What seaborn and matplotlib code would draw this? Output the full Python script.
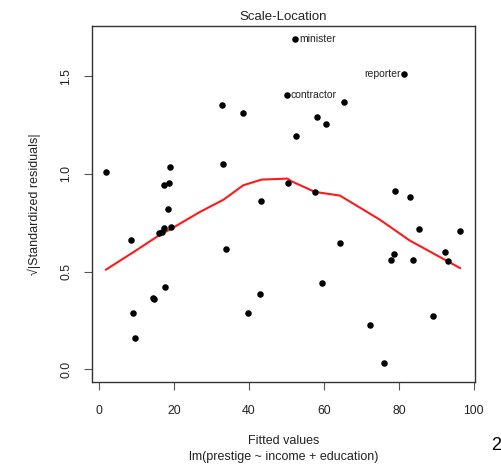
import matplotlib
matplotlib.use("Agg")
import matplotlib.pyplot as plt
import seaborn as sns
import pandas as pd

# ---- data ----
fitted = [1.8, 19.0, 17.3, 18.75, 18.5, 32.9, 38.4, 50.1, 33.2, 50.5, 43.2,
          52.3, 81.5, 65.5, 58.1, 60.5, 52.5, 57.6, 79.1, 83.0,
          8.5, 16.1, 17.4, 19.1, 33.9, 17.6, 14.3, 14.6, 9.0, 9.5, 39.8, 43.0,
          85.4, 96.4, 64.3, 78.7, 77.9, 83.9, 92.2, 93.0, 59.5, 89.2, 72.3,
          76.0, 16.8]
sqrt_std_resid = [1.008, 1.037, 0.945, 0.954, 0.820, 1.354, 1.313, 1.405, 1.051,
                  0.954, 0.862, 1.689, 1.513, 1.367, 1.294, 1.256, 1.193, 0.906,
                  0.913, 0.882, 0.660, 0.697, 0.723, 0.730, 0.617, 0.420, 0.364,
                  0.360, 0.287, 0.159, 0.287, 0.385, 0.720, 0.709, 0.646, 0.591,
                  0.559, 0.559, 0.600, 0.554, 0.439, 0.273, 0.227, 0.031, 0.705]

smooth_x = [1.8, 9.0, 16.3, 19.0, 26.9, 33.2, 38.5, 43.4, 50.3, 51.4, 57.6,
            64.3, 74.9, 82.9, 96.4]
smooth_y = [0.509, 0.597, 0.689, 0.716, 0.805, 0.868, 0.942, 0.971, 0.976,
            0.962, 0.908, 0.889, 0.766, 0.659, 0.517]

label_names = ["minister", "reporter", "contractor"]
label_x = [52.3, 81.5, 50.1]
label_y = [1.689, 1.513, 1.405]
label_side = ["right", "left", "right"]

x_ticks = [0, 20, 40, 60, 80, 100]
y_ticks = [0.0, 0.5, 1.0, 1.5]

# ---- styling ----
sns.set_style("white")
plt.rcParams["font.family"] = ["Liberation Sans", "DejaVu Sans"]

fig = plt.figure(figsize=(5.02, 4.67), dpi=100)
ax = fig.add_axes([0.1827, 0.1814, 0.7633, 0.7629])

pts = pd.DataFrame({"x": fitted, "y": sqrt_std_resid})
sm = pd.DataFrame({"x": smooth_x, "y": smooth_y})

sns.scatterplot(data=pts, x="x", y="y", ax=ax, color="black", s=22,
                edgecolor="black", linewidth=0, zorder=3)
sns.lineplot(data=sm, x="x", y="y", ax=ax, color="#FF1A1A", linewidth=1.5,
             sort=False, estimator=None, zorder=2)

for name, lx, ly, side in zip(label_names, label_x, label_y, label_side):
    off = 3 if side == "right" else -3
    ax.annotate(name, (lx, ly), xytext=(off, 0), textcoords="offset points",
                ha="left" if side == "right" else "right", va="center",
                fontsize=7.5, color="#222222")

ax.set_xlim(-1.95, 100.3)
ax.set_ylim(-0.0676, 1.758)
ax.set_xticks(x_ticks)
ax.set_xticklabels([str(t) for t in x_ticks])
ax.set_yticks(y_ticks)
ax.set_yticklabels([f"{t:.1f}" for t in y_ticks], rotation=90, va="center")

for s in ax.spines.values():
    s.set_visible(True)
    s.set_color("#333333")
    s.set_linewidth(1.0)

ax.tick_params(axis="both", direction="out", length=6, width=0.8,
               color="#555555", labelsize=8.8, labelcolor="#222222",
               bottom=True, left=True)
ax.tick_params(axis="x", pad=10)
ax.tick_params(axis="y", pad=8)

ax.set_xlabel("Fitted values\nlm(prestige ~ income + education)",
              fontsize=9, color="#222222", labelpad=13, linespacing=1.45)
ax.set_ylabel("\u221a|Standardized residuals|", fontsize=9, color="#222222",
              labelpad=14)
ax.set_title("Scale-Location", fontsize=9.5, color="#222222", pad=4)

fig.text(491 / 502, 1 - 446 / 467, "2", fontsize=13, ha="left", va="center",
         color="black")

fig.savefig("out.png", dpi=100)
